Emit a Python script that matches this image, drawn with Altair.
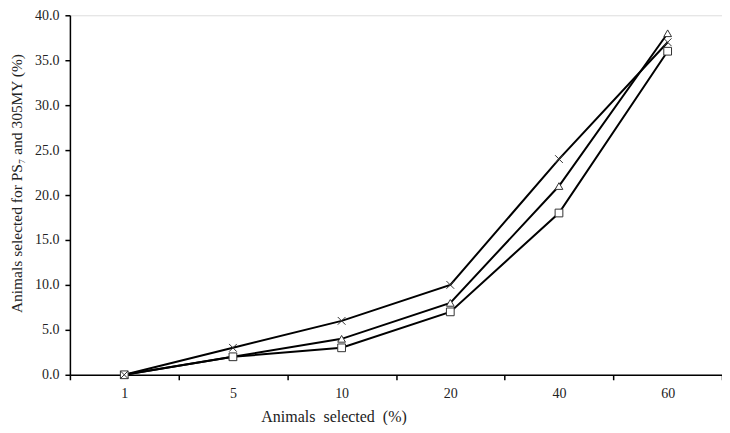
import altair as alt
import pandas as pd

pct = ["1", "5", "10", "20", "40", "60"]
series = ["cross", "triangle", "square"]
cross_vals = [0, 3, 6, 10, 24, 37]
tri_vals = [0, 2, 4, 8, 21, 38]
sq_vals = [0, 2, 3, 7, 18, 36]
draw_order = {"triangle": 0, "square": 1, "cross": 2}

rows = []
for s, vals in zip(series, [cross_vals, tri_vals, sq_vals]):
    for p, v in zip(pct, vals):
        rows.append({"pct": p, "value": v, "series": s, "z": draw_order[s]})
df = pd.DataFrame(rows)

FONT = "Liberation Serif"

x_enc = alt.X(
    "pct:O", sort=pct,
    scale=alt.Scale(type="band", paddingInner=0, paddingOuter=0),
    axis=alt.Axis(
        title="Animals\u00a0 selected\u00a0 (%)", labelAngle=0, tickBand="extent",
        domainColor="black", domainWidth=1.5, tickColor="black", tickWidth=1.5, tickSize=5,
        labelFont=FONT, labelFontSize=14, labelColor="#222", labelPadding=7,
        titleFont=FONT, titleFontSize=16, titleFontWeight="normal", titleColor="#222",
        titlePadding=8, titleX=264, titleAnchor="middle", grid=False,
    ),
)
y_enc = alt.Y(
    "value:Q",
    scale=alt.Scale(domain=[0, 40], nice=False),
    axis=alt.Axis(
        title="Animals selected for PS₇ and 305MY (%)", values=list(range(0, 41, 5)), format=".1f",
        domainColor="black", domainWidth=1.5, tickColor="black", tickWidth=1.5, tickSize=5,
        labelFont=FONT, labelFontSize=14, labelColor="#222", labelPadding=6,
        titleFont=FONT, titleFontSize=15.5, titleFontWeight="normal", titleColor="#222",
        titlePadding=10, titleY=168, grid=False,
    ),
)

lines = alt.Chart(df).mark_line(color="black", strokeWidth=2).encode(
    x=x_enc, y=y_enc, detail="series:N", order=alt.Order("pct_order:Q")
).transform_calculate(
    pct_order="indexof(['1','5','10','20','40','60'], datum.pct)"
)

XSHAPE = "M-1,-1L1,1M1,-1L-1,1"

points = alt.Chart(df).mark_point(filled=False, color="#333", fill="white", fillOpacity=1,
                                  strokeWidth=1, size=60, opacity=1).encode(
    x=alt.X("pct:O", sort=pct),
    y="value:Q",
    shape=alt.Shape("series:N",
                    scale=alt.Scale(domain=series, range=[XSHAPE, "triangle-up", "square"]),
                    legend=None),
    order=alt.Order("z:Q"),
)

chart = alt.layer(lines, points).properties(
    width=653, height=360,
    autosize=alt.AutoSizeParams(type="none"),
    padding={"left": 62, "top": 7, "right": 0, "bottom": 50},
).configure_view(stroke=None).configure(background="white")

chart.save("out.html", embed_options={"renderer": "svg", "actions": False})
